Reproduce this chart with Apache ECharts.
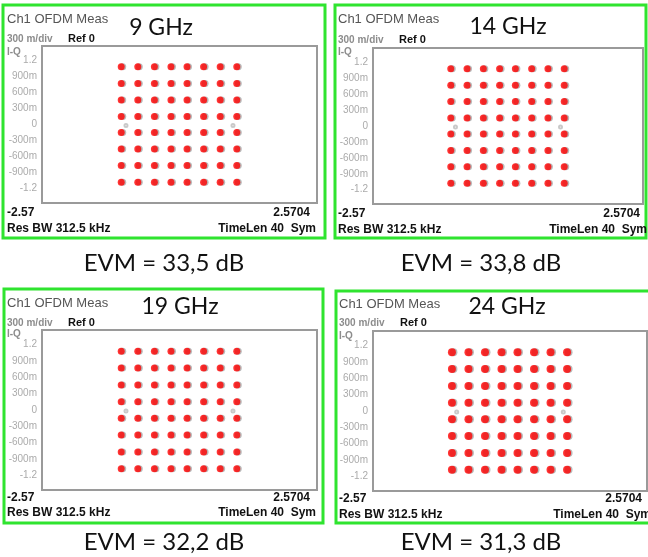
<!DOCTYPE html>
<html lang="en">
<head>
    <meta charset="UTF-8">
    <title>OFDM constellations</title>
    <script type="text/javascript" src="https://cdn.jsdelivr.net/npm/echarts@6/dist/echarts.min.js"></script>
    <style>
        html, body { margin: 0; padding: 0; background: #fff; }
        #container { width: 648px; height: 557px; }
    </style>
</head>
<body>
<div id="container"></div>
<script type="text/javascript">
    // data
    var freqLabels = ['9 GHz', '14 GHz', '19 GHz', '24 GHz'];
    var evmValues = ['33,5', '33,8', '32,2', '31,3'];
    // 64-QAM levels of I and Q (same for every panel)
    var iLevels = [-1.08, -0.77, -0.46, -0.15, 0.15, 0.46, 0.77, 1.08];
    var qLevels = [-1.08, -0.77, -0.46, -0.15, 0.15, 0.46, 0.77, 1.08];
    // pilots, the little grey marks
    var pilotI = [-1.0, 1.0];
    var pilotQ = [-0.02, -0.02];
    var yTickValues = [-1.2, -0.9, -0.6, -0.3, 0, 0.3, 0.6, 0.9, 1.2];
    var yTickLabels = ['-1.2', '-900m', '-600m', '-300m', '0', '300m', '600m', '900m', '1.2'];
    var xMin = -2.57, xMax = 2.5704;
    var xMinLabel = '-2.57', xMaxLabel = '2.5704';

    // layout of the four screenshots
    var panels = [
        {frame: [3, 5, 322, 233], grid: [42, 46, 275, 157], lx: 7, refx: 68, ra: 310, rb: 316,
         rows: [19, 39, 52, 213, 229], head: [161, 28], evm: [164, 263], dot: 8},
        {frame: [335, 5, 311, 233], grid: [373, 48, 270, 156], lx: 338, refx: 399, ra: 640, rb: 647,
         rows: [19, 40, 52, 214, 230], head: [508, 27], evm: [481, 263], dot: 8},
        {frame: [4, 289, 319, 234], grid: [42, 330, 275, 160], lx: 7, refx: 68, ra: 310, rb: 316,
         rows: [303, 323, 334, 498, 513], head: [180, 307], evm: [164, 542], dot: 8},
        {frame: [336, 291, 316, 232], grid: [373, 331, 274, 160], lx: 339, refx: 400, ra: 642, rb: 651,
         rows: [304, 323, 336, 499, 515], head: [507, 307], evm: [481, 542], dot: 9}
    ];

    var smallFont = '"Liberation Sans", Arial, sans-serif';
    var bigFont = 'Lato, "Open Sans", sans-serif';

    var constellation = [];
    iLevels.forEach(function (i) {
        qLevels.forEach(function (q) { constellation.push([i, q]); });
    });
    var pilots = pilotI.map(function (v, k) { return [v, pilotQ[k]]; });

    function txt(text, x, y, font, fill, align) {
        return {
            type: 'text', z: 10,
            style: {text: text, x: x, y: y, font: font, fill: fill,
                    textAlign: align || 'left', textVerticalAlign: 'middle'}
        };
    }

    var grids = [], xAxes = [], yAxes = [], series = [], graphics = [];
    panels.forEach(function (p, k) {
        grids.push({left: p.grid[0], top: p.grid[1], width: p.grid[2], height: p.grid[3],
                    show: true, borderColor: '#9a9a9a', borderWidth: 2, backgroundColor: '#fff'});
        xAxes.push({gridIndex: k, type: 'value', min: xMin, max: xMax,
                    axisLine: {show: false}, axisTick: {show: false},
                    axisLabel: {show: false}, splitLine: {show: false}});
        yAxes.push({gridIndex: k, type: 'value', min: -1.47, max: 1.47,
                    axisLine: {show: false}, axisTick: {show: false}, splitLine: {show: false},
                    axisLabel: {
                        customValues: yTickValues, margin: 5, color: '#ababab',
                        fontFamily: smallFont, fontSize: 10,
                        formatter: function (v) {
                            for (var j = 0; j < yTickValues.length; j++) {
                                if (Math.abs(yTickValues[j] - v) < 1e-6) return yTickLabels[j];
                            }
                            return '';
                        }
                    }});
        series.push({type: 'scatter', xAxisIndex: k, yAxisIndex: k, data: constellation,
                     symbolSize: p.dot - 1, symbolOffset: [1, 0], silent: true,
                     itemStyle: {color: 'rgba(110,110,110,0.6)'}});
        series.push({type: 'scatter', xAxisIndex: k, yAxisIndex: k, data: constellation,
                     symbolSize: p.dot - 1, symbolOffset: [-0.5, 0], silent: true,
                     itemStyle: {color: '#ff0000'}});
        series.push({type: 'scatter', xAxisIndex: k, yAxisIndex: k, data: pilots,
                     symbol: 'emptyCircle', symbolSize: 3, silent: true,
                     itemStyle: {color: '#bbb', borderColor: '#bbb', borderWidth: 1}});

        graphics.push({type: 'rect', z: 5,
                       shape: {x: p.frame[0], y: p.frame[1], width: p.frame[2], height: p.frame[3]},
                       style: {fill: 'none', stroke: '#2fe42f', lineWidth: 3}});
        graphics.push(txt('Ch1 OFDM Meas', p.lx, p.rows[0], '13px ' + smallFont, '#555'));
        graphics.push(txt('300 m/div', p.lx, p.rows[1], 'bold 10px ' + smallFont, '#8c8c8c'));
        graphics.push(txt('Ref 0', p.refx, p.rows[1], 'bold 11px ' + smallFont, '#111'));
        graphics.push(txt('I-Q', p.lx, p.rows[2], 'bold 10px ' + smallFont, '#8c8c8c'));
        graphics.push(txt(xMinLabel, p.lx, p.rows[3], 'bold 12px ' + smallFont, '#111'));
        graphics.push(txt(xMaxLabel, p.ra, p.rows[3], 'bold 12px ' + smallFont, '#111', 'right'));
        graphics.push(txt('Res BW 312.5 kHz', p.lx, p.rows[4], 'bold 12px ' + smallFont, '#111'));
        graphics.push(txt('TimeLen 40  Sym', p.rb, p.rows[4], 'bold 12px ' + smallFont, '#111', 'right'));
        graphics.push(txt(freqLabels[k], p.head[0], p.head[1], '23px ' + bigFont, '#111', 'center'));
        graphics.push(txt('EVM = ' + evmValues[k] + ' dB', p.evm[0], p.evm[1], '24px ' + bigFont, '#111', 'center'));
    });

    var myChart = echarts.init(document.getElementById('container'));
    var option = {
        animation: false,
        backgroundColor: '#fff',
        grid: grids,
        xAxis: xAxes,
        yAxis: yAxes,
        series: series,
        graphic: graphics
    };
    myChart.setOption(option);
</script>
</body>
</html>
